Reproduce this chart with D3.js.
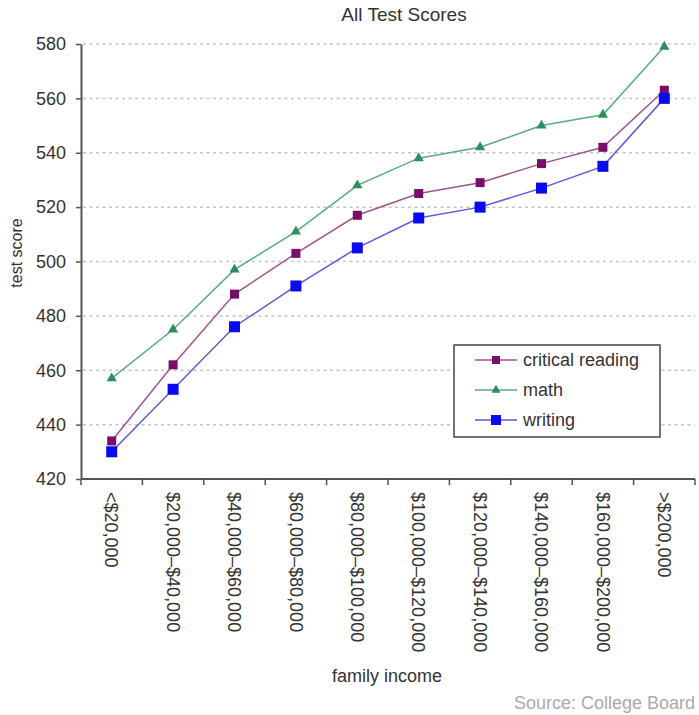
<!DOCTYPE html>
<html>
<head>
<meta charset="utf-8">
<script src="https://cdn.jsdelivr.net/npm/d3@7"></script>
<style>
  html, body { margin: 0; padding: 0; background: #fff; }
  svg { display: block; font-family: "Liberation Sans", Arial, sans-serif; }
</style>
</head>
<body>
<svg id="chart" width="699" height="715"></svg>
<script>
const categories = ["<$20,000", "$20,000\u2013$40,000", "$40,000\u2013$60,000", "$60,000\u2013$80,000",
  "$80,000\u2013$100,000", "$100,000\u2013$120,000", "$120,000\u2013$140,000", "$140,000\u2013$160,000",
  "$160,000\u2013$200,000", ">$200,000"];
const criticalReading = [434, 462, 488, 503, 517, 525, 529, 536, 542, 563];
const math = [457, 475, 497, 511, 528, 538, 542, 550, 554, 579];
const writing = [430, 453, 476, 491, 505, 516, 520, 527, 535, 560];
const yTicks = [420, 440, 460, 480, 500, 520, 540, 560, 580];
const seriesNames = ["critical reading", "math", "writing"];

(function () {
const series = [
  { name: seriesNames[0], values: criticalReading, marker: "square", size: 9, fill: "#7a0d68", line: "#a0558f" },
  { name: seriesNames[1], values: math, marker: "triangle", size: 10, fill: "#2e8f5c", line: "#58ab82" },
  { name: seriesNames[2], values: writing, marker: "square", size: 11, fill: "#0a0af0", line: "#5b5bd6" }
];

const svg = d3.select("#chart");
const mLeft = 81, mRight = 695, mTop = 44, mBottom = 479;

const x = d3.scaleBand().domain(categories).range([mLeft, mRight]).padding(0);
const y = d3.scaleLinear().domain([420, 580]).range([mBottom, mTop]);
const cx = c => x(c) + x.bandwidth() / 2;

// gridlines
svg.append("g").selectAll("line").data(yTicks.filter(t => t > 420)).join("line")
  .attr("x1", mLeft + 2).attr("x2", mRight).attr("y1", d => y(d)).attr("y2", d => y(d))
  .attr("stroke", "#c4c4c4").attr("stroke-width", 1.5).attr("stroke-dasharray", "3,3.5");

// y axis
const yAxis = svg.append("g").attr("transform", `translate(${mLeft},0)`)
  .call(d3.axisLeft(y).tickValues(yTicks).tickSize(5).tickPadding(10).tickSizeOuter(0));
yAxis.select(".domain").attr("stroke", "#555").attr("stroke-width", 2);
yAxis.selectAll(".tick line").attr("stroke", "#555").attr("stroke-width", 1.5);
yAxis.selectAll(".tick text").attr("font-size", 18).attr("fill", "#333")
  .attr("font-family", "'Liberation Sans', Arial, sans-serif");

// x axis line
svg.append("line").attr("x1", mLeft).attr("x2", mRight).attr("y1", mBottom).attr("y2", mBottom)
  .attr("stroke", "#555").attr("stroke-width", 2);
// x ticks at band boundaries
const boundaries = categories.map(c => x(c)).concat([x.range()[1]]);
svg.append("g").selectAll("line").data(boundaries).join("line")
  .attr("x1", d => d).attr("x2", d => d).attr("y1", mBottom).attr("y2", mBottom + 6)
  .attr("stroke", "#555").attr("stroke-width", 1.5);
// x labels rotated
svg.append("g").selectAll("text").data(categories).join("text")
  .attr("transform", d => `translate(${cx(d)},${mBottom + 13}) rotate(90)`)
  .attr("dy", "0.35em").attr("text-anchor", "start")
  .attr("font-size", 18).attr("fill", "#333").text(d => d);

// titles
svg.append("text").attr("x", 404).attr("y", 21).attr("text-anchor", "middle")
  .attr("font-size", 19).attr("fill", "#333").text("All Test Scores");
svg.append("text").attr("transform", "translate(22,253) rotate(-90)").attr("text-anchor", "middle")
  .attr("font-size", 16).attr("fill", "#333").text("test score");
svg.append("text").attr("x", 387).attr("y", 682).attr("text-anchor", "middle")
  .attr("font-size", 18).attr("fill", "#333").text("family income");
svg.append("text").attr("x", 695).attr("y", 709).attr("text-anchor", "end")
  .attr("font-size", 18).attr("fill", "#aaa").text("Source: College Board");

function drawMarker(g, type, size, fill) {
  if (type === "square") {
    g.append("rect").attr("x", -size / 2).attr("y", -size / 2).attr("width", size).attr("height", size)
      .attr("fill", fill);
  } else {
    g.append("path").attr("d", d3.symbol(d3.symbolTriangle, size * size * 0.45)()).attr("fill", fill);
  }
}

const line = d3.line().x((d, i) => cx(categories[i])).y(d => y(d));
series.forEach(s => {
  svg.append("path").datum(s.values).attr("d", line)
    .attr("fill", "none").attr("stroke", s.line).attr("stroke-width", 1.5);
  s.values.forEach((v, i) => {
    const g = svg.append("g").attr("transform", `translate(${cx(categories[i])},${y(v)})`);
    drawMarker(g, s.marker, s.size, s.fill);
  });
});

// legend
const lg = svg.append("g");
lg.append("rect").attr("x", 454).attr("y", 345).attr("width", 206).attr("height", 92)
  .attr("fill", "#fff").attr("stroke", "#444").attr("stroke-width", 1.5);
series.forEach((s, i) => {
  const ly = 360 + i * 30;
  lg.append("line").attr("x1", 475).attr("x2", 517).attr("y1", ly).attr("y2", ly)
    .attr("stroke", s.line).attr("stroke-width", 1.5);
  const g = lg.append("g").attr("transform", `translate(496,${ly})`);
  drawMarker(g, s.marker, s.size - 1, s.fill);
  lg.append("text").attr("x", 523).attr("y", ly).attr("dy", "0.35em")
    .attr("font-size", 18).attr("fill", "#333").text(s.name);
});
})();
</script>
</body>
</html>
